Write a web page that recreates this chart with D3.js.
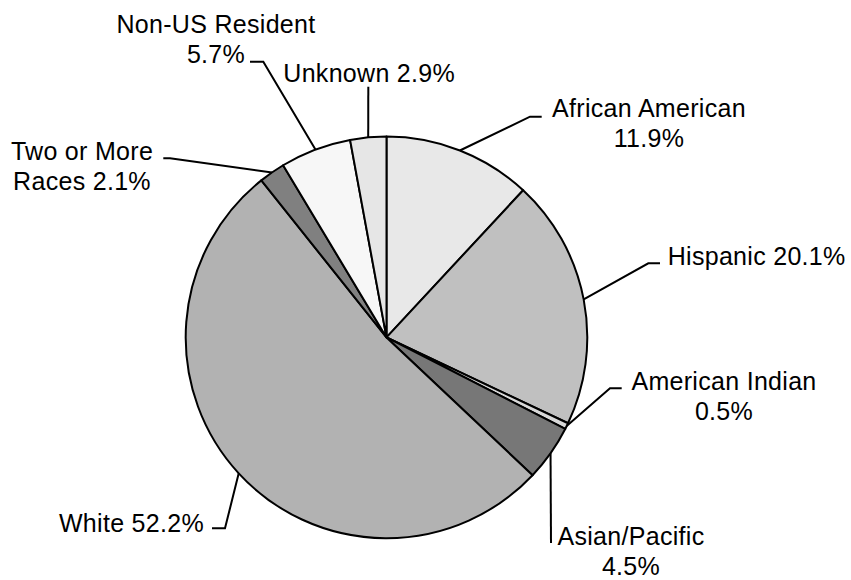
<!DOCTYPE html>
<html>
<head>
<meta charset="utf-8">
<script src="https://cdn.jsdelivr.net/npm/d3@7"></script>
<style>
  html, body { margin: 0; padding: 0; background: #fff; }
  svg { display: block; }
  text { font-family: "Liberation Sans", Arial, sans-serif; font-size: 25px; fill: #000; letter-spacing: 0.3px; }
</style>
</head>
<body>
<svg id="chart" width="851" height="580"></svg>
<script>
// ---- data ----
const categories = ["African American", "Hispanic", "American Indian", "Asian/Pacific", "White", "Two or More Races", "Non-US Resident", "Unknown"];
const values = [11.9, 20.1, 0.5, 4.5, 52.2, 2.1, 5.7, 2.9];
const labelLines = [
  ["African American", "11.9%"],
  ["Hispanic 20.1%"],
  ["American Indian", "0.5%"],
  ["Asian/Pacific", "4.5%"],
  ["White 52.2%"],
  ["Two or More", "Races 2.1%"],
  ["Non-US Resident", "5.7%"],
  ["Unknown 2.9%"]
];

// ---- styles / layout (not data) ----
const colors = ["#e8e8e8", "#c0c0c0", "#d8d8d8", "#777777", "#b2b2b2", "#808080", "#f7f7f7", "#e6e6e6"];
const cx = 386.5, cy = 337.4, R = 200.8;
// label layout: text anchor point, anchor type, and leader elbow points (from label side)
const labelLayout = [
  { x: 649, y: 116.7, anchor: "middle", leader: [[541.7, 116.7], [530, 116.7]] },
  { x: 667.7, y: 265, anchor: "start", leader: [[660, 263.3], [648.3, 263.3]] },
  { x: 724, y: 390, anchor: "middle", leader: [[621.7, 388.3], [610, 388.3]] },
  { x: 631, y: 544.5, anchor: "middle", leader: [[551, 543]] },
  { x: 204, y: 532.3, anchor: "end", leader: [[212, 528.3], [225, 528.3]] },
  { x: 82, y: 160, anchor: "middle", leader: [[163.3, 158.3], [170, 158.3]] },
  { x: 216, y: 33.3, anchor: "middle", leader: [[250, 61.7], [263.3, 61.7]] },
  { x: 283.3, y: 81.7, anchor: "start", leader: [[368.3, 86.7]] }
];
const lineHeight = 30;

const svg = d3.select("#chart");
const g = svg.append("g").attr("transform", `translate(${cx},${cy})`);

const pie = d3.pie().sort(null).value(d => d)(values);
const arc = d3.arc().innerRadius(0).outerRadius(R);

g.selectAll("path.slice")
  .data(pie)
  .join("path")
  .attr("class", "slice")
  .attr("d", arc)
  .attr("fill", (d, i) => colors[i])
  .attr("stroke", "#000")
  .attr("stroke-width", 2)
  .attr("stroke-linejoin", "round");

// leader lines
const lineGen = d3.line();
pie.forEach((d, i) => {
  const L = labelLayout[i];
  const midA = (d.startAngle + d.endAngle) / 2;
  const edge = [cx + R * Math.sin(midA), cy - R * Math.cos(midA)];
  const pts = L.leader.concat([edge]);
  svg.append("path")
    .attr("d", lineGen(pts))
    .attr("fill", "none")
    .attr("stroke", "#000")
    .attr("stroke-width", 2);
});

// labels
labelLines.forEach((lines, i) => {
  const L = labelLayout[i];
  const t = svg.append("text")
    .attr("x", L.x)
    .attr("y", L.y)
    .attr("text-anchor", L.anchor);
  lines.forEach((ln, j) => {
    t.append("tspan").attr("x", L.x).attr("y", L.y + j * lineHeight).text(ln);
  });
});
</script>
</body>
</html>
